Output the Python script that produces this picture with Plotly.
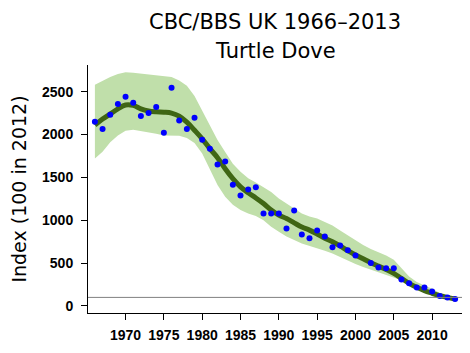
import plotly.graph_objects as go

years = list(range(1966, 2014))
trend = [2110, 2180, 2240, 2300, 2345, 2340, 2300, 2275, 2265, 2260,
         2250, 2215, 2145, 2050, 1950, 1835, 1730, 1600, 1485, 1390,
         1320, 1260, 1195, 1120, 1060, 1020, 970, 920, 885, 840,
         790, 750, 700, 645, 595, 550, 505, 465, 425, 380,
         322, 264, 217, 178, 148, 120, 100, 82]
upper = [2580, 2630, 2670, 2705, 2725, 2720, 2710, 2700, 2690, 2685,
         2670, 2630, 2570, 2450, 2280, 2105, 1935, 1795, 1660, 1565,
         1490, 1440, 1385, 1330, 1255, 1195, 1135, 1080, 1045, 1020,
         980, 940, 880, 820, 760, 710, 665, 630, 590, 540,
         440, 345, 280, 240, 200, 150, 115, 90]
lower = [1720, 1800, 1910, 1990, 2045, 2055, 2045, 2025, 2010, 1990,
         1985, 1985, 1960, 1900, 1780, 1590, 1410, 1275, 1180, 1120,
         1080, 1050, 1000, 925, 865, 810, 770, 730, 700, 670,
         643, 613, 575, 530, 490, 455, 420, 395, 365, 330,
         300, 275, 235, 200, 175, 130, 100, 75]

pt_years = [1966, 1967, 1968, 1969, 1970, 1971, 1972, 1973, 1974, 1975,
            1976, 1977, 1978, 1979, 1980, 1981, 1982, 1983, 1984, 1985,
            1986, 1987, 1988, 1989, 1990, 1991, 1992, 1993, 1994, 1995,
            1996, 1997, 1998, 1999, 2000, 2002, 2003, 2004, 2005, 2006,
            2007, 2008, 2009, 2010, 2011, 2012, 2013]
pt_values = [2150, 2065, 2230, 2355, 2440, 2370, 2215, 2250, 2320, 2020,
             2545, 2165, 2065, 2195, 1940, 1835, 1650, 1685, 1415, 1290,
             1360, 1385, 1080, 1080, 1080, 905, 1115, 835, 790, 880,
             810, 685, 705, 650, 590, 500, 450, 440, 440, 310,
             265, 215, 215, 170, 115, 100, 80]

x_ticks = [1970, 1975, 1980, 1985, 1990, 1995, 2000, 2005, 2010]
y_ticks = [0, 500, 1000, 1500, 2000, 2500]
ref_value = 100
title_lines = ["CBC/BBS UK 1966–2013", "Turtle Dove"]

fig = go.Figure()
fig.add_trace(go.Scatter(x=years + years[::-1], y=upper + lower[::-1],
                         fill="toself", fillcolor="#c0dfaa",
                         line=dict(width=0), mode="lines",
                         hoverinfo="skip", showlegend=False))
fig.add_trace(go.Scatter(x=years, y=trend, mode="lines",
                         line=dict(color="#3f6614", width=5, shape="spline"),
                         showlegend=False))
fig.add_trace(go.Scatter(x=pt_years, y=pt_values, mode="markers",
                         marker=dict(color="#0000ff", size=6),
                         showlegend=False))
fig.add_shape(type="line", xref="paper", x0=0, x1=1, yref="y",
              y0=ref_value, y1=ref_value,
              line=dict(color="#808080", width=1), layer="above")

title_font = dict(family="DejaVu Sans, Verdana", size=21, color="black")
for txt, yp in zip(title_lines, [1.172, 1.058]):
    fig.add_annotation(text=txt, xref="paper", yref="paper", x=0.5, y=yp,
                       xanchor="center", yanchor="middle", showarrow=False,
                       font=title_font)

tickfont = dict(family="Liberation Sans, Arial", size=14, color="black", weight="bold")
fig.update_layout(
    width=470, height=353,
    margin=dict(l=88, r=8, t=65, b=40),
    paper_bgcolor="white", plot_bgcolor="white",
    xaxis=dict(range=[1965.1, 2013.9], tickvals=x_ticks, showgrid=False,
               zeroline=False, showline=True, linecolor="black", linewidth=1,
               ticks="outside", ticklen=6, tickcolor="black",
               tickfont=tickfont, ticklabelstandoff=3),
    yaxis=dict(range=[-82, 2811], tickvals=y_ticks, showgrid=False,
               zeroline=False, showline=True, linecolor="black", linewidth=1,
               ticks="outside", ticklen=6, tickcolor="black",
               tickfont=tickfont, ticklabelstandoff=5,
               title=dict(text="Index (100 in 2012)",
                          font=dict(family="DejaVu Sans, Verdana", size=19, color="black"),
                          standoff=10)),
)
fig.write_html("out.html")
